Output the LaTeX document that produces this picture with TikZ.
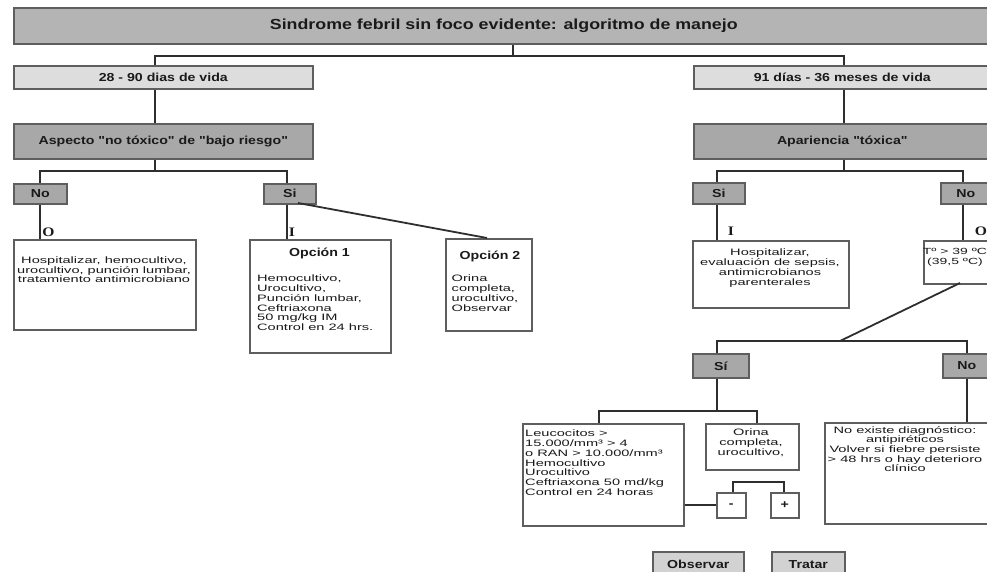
\documentclass[tikz,border=0pt]{standalone}
\usepackage{fontspec}
\setmainfont{Liberation Sans}
\newfontfamily\hfont[FakeStretch=1.22]{Liberation Sans}
\newfontfamily\bfontfam[FakeStretch=1.57]{Liberation Sans}
\newfontfamily\lfont[FakeStretch=1.2]{Liberation Serif}
\definecolor{cT}{HTML}{B4B4B4}
\definecolor{cL}{HTML}{DDDDDD}
\definecolor{cM}{HTML}{A8A8A8}
\definecolor{cO}{HTML}{D2D2D2}
\definecolor{cB}{HTML}{5E5E5E}
\definecolor{cK}{HTML}{2E2E2E}
\definecolor{cX}{HTML}{1A1A1A}
\tikzset{
  bx/.style={draw=cB, line width=1.6pt, inner sep=0pt, anchor=north west, text=cX},
  hd/.style={font=\hfont\bfseries\fontsize{11.6}{12}\selectfont},
  tt/.style={font=\hfont\bfseries\fontsize{14.6}{15}\selectfont},
  bt/.style={inner sep=0pt, anchor=north, text=cX, font=\bfontfam\fontsize{9.3}{9.7}\selectfont, align=center},
  btl/.style={bt, anchor=north west, align=left},
  lbl/.style={inner sep=0pt, text=cX, font=\lfont\bfseries\fontsize{13}{13}\selectfont},
  ln/.style={draw=cK, line width=1.8pt},
}
\begin{document}
\begin{tikzpicture}[x=1pt,y=-1pt]
\useasboundingbox (0,0) rectangle (987,572);
\clip (0,0) rectangle (987,572);
% boxes
\node[bx, tt, fill=cT, minimum width=980pt, minimum height=36pt] (title) at (13,7) {Sindrome febril sin foco evidente: algoritmo de manejo};
\node[bx, hd, fill=cL, minimum width=299pt, minimum height=23pt] (age1) at (13,65) {28 - 90 dias de vida};
\node[bx, hd, fill=cL, minimum width=297pt, minimum height=23pt] (age2) at (693,65) {91 días - 36 meses de vida};
\node[bx, hd, fill=cM, minimum width=299pt, minimum height=35pt] (asp1) at (13,123) {Aspecto "no tóxico" de "bajo riesgo"};
\node[bx, hd, fill=cM, minimum width=297pt, minimum height=35pt] (asp2) at (693,123) {Apariencia "tóxica"};
\node[bx, hd, fill=cM, minimum width=53pt, minimum height=20pt] (no1) at (13,183) {No};
\node[bx, hd, fill=cM, minimum width=52pt, minimum height=20pt] (si1) at (263,183) {Si};
\node[bx, hd, fill=cM, minimum width=52pt, minimum height=21pt] (si2) at (692,182) {Si};
\node[bx, hd, fill=cM, minimum width=50pt, minimum height=21pt] (no2) at (940,182) {No};
\node[bx, fill=white, minimum width=182pt, minimum height=90pt] (h1) at (13,239) {};
\node[bx, fill=white, minimum width=141pt, minimum height=113pt] (op1) at (249,239) {};
\node[bx, fill=white, minimum width=86pt, minimum height=92pt] (op2) at (445,238) {};
\node[bx, fill=white, minimum width=156pt, minimum height=67pt] (h2) at (692,240) {};
\node[bx, fill=white, minimum width=67pt, minimum height=43pt] (tb) at (923,240) {};
\node[bx, hd, fill=cM, minimum width=56pt, minimum height=24pt] (si3) at (692,353) {Sí};
\node[bx, hd, fill=cM, minimum width=48pt, minimum height=24pt] (no3) at (942,353) {No};
\node[bx, fill=white, minimum width=161pt, minimum height=102pt] (leu) at (522,423) {};
\node[bx, fill=white, minimum width=93pt, minimum height=46pt] (ori) at (705,423) {};
\node[bx, fill=white, minimum width=166pt, minimum height=101pt] (nex) at (824,422) {};
\node[bx, hd, fill=white, minimum width=29pt, minimum height=25pt] (mn) at (716,492) {-};
\node[bx, hd, fill=white, minimum width=28pt, minimum height=25pt] (pl) at (770,492) {+};
\node[bx, hd, fill=cO, minimum width=91pt, minimum height=25pt] (obs) at (652,551) {Observar};
\node[bx, hd, fill=cO, minimum width=73pt, minimum height=25pt] (tra) at (771,551) {Tratar};
% texts inside boxes
\node[bt] (h1t) at (104,256.5) {Hospitalizar, hemocultivo,\\urocultivo, punción lumbar,\\tratamiento antimicrobiano};
\node[bt, hd] (op1h) at (319.5,248) {Opción 1};
\node[btl] (op1t) at (257,275) {Hemocultivo,\\Urocultivo,\\Punción lumbar,\\Ceftriaxona\\50 mg/kg IM\\Control en 24 hrs.};
\node[bt, hd] (op2h) at (490,251) {Opción 2};
\node[btl] (op2t) at (451.5,275) {Orina\\completa,\\urocultivo,\\Observar};
\node[bt] (h2t) at (770,249) {Hospitalizar,\\evaluación de sepsis,\\antimicrobianos\\parenterales};
\node[bt, font=\bfontfam\fontsize{8.9}{9.7}\selectfont] (tbt) at (955,248.5) {Tº > 39 ºC\\(39,5 ºC)};
\node[btl] (leut) at (525,430) {Leucocitos >\\15.000/mm³ > 4\\o RAN > 10.000/mm³\\Hemocultivo\\Urocultivo\\Ceftriaxona 50 md/kg\\Control en 24 horas};
\node[bt] (orit) at (751,429) {Orina\\completa,\\urocultivo,};
\node[bt] (next) at (905,426) {No existe diagnóstico:\\antipiréticos\\Volver si fiebre persiste\\> 48 hrs o hay deterioro\\clínico};
% branch labels
\node[lbl] (lO1) at (48.5,232) {O};
\node[lbl] (lI1) at (292,232) {I};
\node[lbl] (lI2) at (731,231) {I};
\node[lbl] (lO2) at (981,231) {O};
% junction coordinates
\coordinate (xT) at (513,0);
\coordinate (xL) at (155,0);
\coordinate (xR) at (844,0);
\coordinate (xNo1) at (40,0);
\coordinate (xSi1) at (287,0);
\coordinate (xSi2) at (717,0);
\coordinate (xNo2) at (963,0);
\coordinate (xNo3) at (967,0);
\coordinate (xLeu) at (599,0);
\coordinate (xOri) at (757,0);
\coordinate (xMn) at (733,0);
\coordinate (xPl) at (784,0);
\coordinate (y1) at (0,56);
\coordinate (y2) at (0,171);
\coordinate (y3) at (0,341);
\coordinate (y4) at (0,411);
\coordinate (y5) at (0,482);
\coordinate (jT) at (840,341);
\coordinate (si1o) at (298,203);
\coordinate (op2i) at (487,238);
\coordinate (tbo) at (960,283);
% connectors
\draw[ln] (title.south -| xT) -- (xT |- y1);
\draw[ln] (age1.north -| xL) -- (xL |- y1) -- (xR |- y1) -- (age2.north -| xR);
\draw[ln] (age1.south -| xL) -- (asp1.north -| xL);
\draw[ln] (age2.south -| xR) -- (asp2.north -| xR);
\draw[ln] (asp1.south -| xL) -- (xL |- y2);
\draw[ln] (no1.north -| xNo1) -- (xNo1 |- y2) -- (xSi1 |- y2) -- (si1.north -| xSi1);
\draw[ln] (asp2.south -| xR) -- (xR |- y2);
\draw[ln] (si2.north -| xSi2) -- (xSi2 |- y2) -- (xNo2 |- y2) -- (no2.north -| xNo2);
\draw[ln] (no1.south -| xNo1) -- (h1.north -| xNo1);
\draw[ln] (si1.south -| xSi1) -- (op1.north -| xSi1);
\draw[ln] (si1o) -- (op2i);
\draw[ln] (si2.south -| xSi2) -- (h2.north -| xSi2);
\draw[ln] (no2.south -| xNo2) -- (tb.north -| xNo2);
\draw[ln] (tbo) -- (jT);
\draw[ln] (si3.north -| xSi2) -- (xSi2 |- y3) -- (xNo3 |- y3) -- (no3.north -| xNo3);
\draw[ln] (si3.south -| xSi2) -- (xSi2 |- y4);
\draw[ln] (leu.north -| xLeu) -- (xLeu |- y4) -- (xOri |- y4) -- (ori.north -| xOri);
\draw[ln] (no3.south -| xNo3) -- (nex.north -| xNo3);
\draw[ln] (leu.east |- 0,505) -- (mn.west |- 0,505);
\draw[ln] (mn.north -| xMn) -- (xMn |- y5) -- (xPl |- y5) -- (pl.north -| xPl);
\end{tikzpicture}
\end{document}
